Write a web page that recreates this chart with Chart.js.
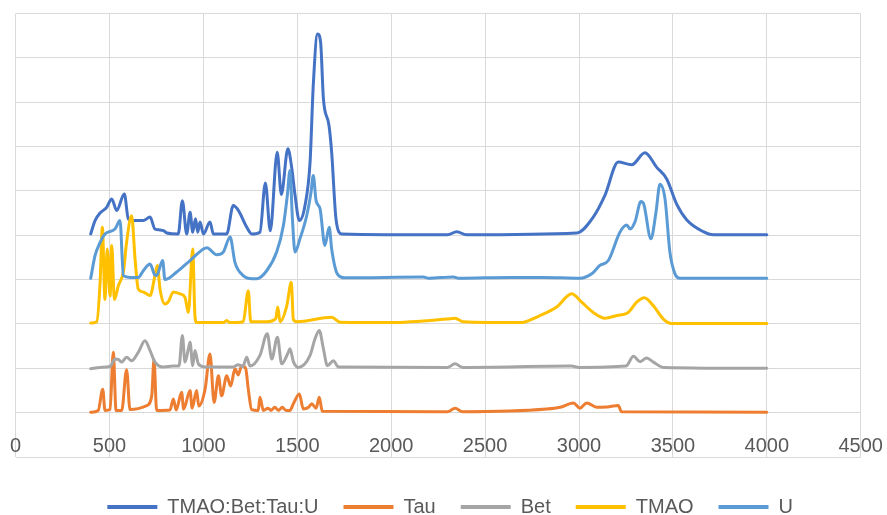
<!DOCTYPE html>
<html>
<head>
<meta charset="utf-8">
<script src="https://cdn.jsdelivr.net/npm/chart.js@4"></script>
<style>
html,body{margin:0;padding:0;background:#fff;}
#c{display:block;}
</style>
</head>
<body>
<canvas id="c" width="887" height="515"></canvas>
<script>
// Series names and colours
const seriesNames = ['TMAO:Bet:Tau:U', 'Tau', 'Bet', 'TMAO', 'U'];
const seriesColors = ['#4472C4', '#ED7D31', '#A5A5A5', '#FFC000', '#5B9BD5'];
const xTickLabels = [0, 500, 1000, 1500, 2000, 2500, 3000, 3500, 4000, 4500];

// TMAO:Bet:Tau:U (offset baseline 4)
const combX = [400,423,450,485,512,538,579,600,627,680,716,742,769,790,805,866,888,911,929,943,958,970,982,1000,1035,1053,1124,1159,1186,1231,1257,1301,1330,1356,1393,1415,1450,1470,1488,1511,1541,1568,1585,1608,1624,1639,1669,1683,1706,1736,2300,2349,2400,2988,3076,3138,3209,3281,3351,3414,3467,3520,3573,3662,3715,4000];
const combY = [4.03,4.33,4.5,4.63,4.82,4.56,4.93,4.37,4.33,4.33,4.41,4.14,4.12,4.1,4.05,4.03,4.78,4.03,4.52,4.07,4.37,4.07,4.3,4.03,4.3,4.03,4.03,4.67,4.56,4.18,4.03,4.07,5.18,4.1,5.87,4.92,5.95,5.53,4.9,4.33,4.67,5.65,7.38,8.54,8.36,7.08,6.47,5.87,4.37,4.03,4.01,4.08,4.01,4.05,4.41,4.9,5.65,5.59,5.86,5.53,5.27,4.7,4.35,4.08,4.01,4.01];

// Tau (baseline 0)
const tauX = [400,440,464,476,503,520,535,565,591,609,698,725,737,751,822,840,855,884,895,929,940,964,975,1009,1035,1057,1080,1097,1124,1145,1168,1185,1204,1225,1239,1257,1292,1301,1319,1345,1360,1380,1400,1420,1440,1461,1479,1511,1532,1560,1577,1600,1617,1633,2300,2340,2380,2828,2899,2970,3005,3041,3094,3150,3209,3227,4000];
const tauY = [0.01,0.05,0.53,0.05,0.07,1.36,0.05,0.05,0.97,0.07,0.16,0.38,1.2,0.05,0.06,0.31,0.06,0.46,0.08,0.5,0.1,0.5,0.15,0.53,1.32,0.23,0.83,0.38,0.83,0.6,0.99,0.85,1.06,1.0,0.53,0.07,0.05,0.35,0.05,0.1,0.05,0.12,0.05,0.12,0.05,0.05,0.2,0.42,0.08,0.12,0.2,0.1,0.35,0.03,0.02,0.1,0.02,0.08,0.12,0.22,0.1,0.22,0.12,0.13,0.16,0.02,0.01];

// Bet (baseline 1)
const betX = [400,450,503,529,547,565,591,618,653,689,716,742,787,840,870,888,902,920,929,943,955,973,1009,1159,1185,1210,1231,1248,1301,1340,1364,1394,1417,1452,1461,1479,1505,1568,1594,1617,1639,1660,1692,1719,2300,2340,2380,2960,3000,3250,3290,3325,3360,3396,3449,4000];
const betY = [0.99,1.02,1.04,1.21,1.2,1.14,1.25,1.17,1.36,1.62,1.4,1.14,1.03,1.05,1.05,1.74,1.14,1.44,1.59,1.06,1.4,1.1,1.03,1.03,1.08,1.04,1.25,1.05,1.29,1.78,1.21,1.7,1.1,1.36,1.44,1.15,1.02,1.29,1.66,1.85,1.44,1.06,1.17,1.03,1.02,1.1,1.02,1.05,1.02,1.05,1.27,1.15,1.23,1.14,1.02,1.0];

// TMAO (baseline 2)
const tmaoX = [400,432,450,462,476,488,503,512,526,547,575,591,618,636,653,680,716,742,755,769,795,813,840,875,902,920,943,955,964,1106,1124,1140,1212,1239,1252,1337,1385,1396,1408,1444,1468,1479,1497,1683,1727,1994,2296,2340,2384,2686,2792,2881,2961,3014,3076,3138,3201,3262,3307,3348,3396,3449,3494,4000];
const tmaoY = [2.02,2.05,2.94,4.18,2.55,3.69,2.63,3.77,2.55,2.86,3.2,3.84,4.44,3.47,2.79,2.72,2.64,3.09,3.32,2.79,2.45,2.5,2.72,2.68,2.6,2.26,3.69,2.18,2.03,2.03,2.08,2.03,2.05,2.75,2.05,2.05,2.12,2.38,2.05,2.41,2.94,2.1,2.05,2.15,2.04,2.03,2.11,2.13,2.05,2.03,2.19,2.38,2.68,2.49,2.26,2.13,2.19,2.26,2.49,2.59,2.41,2.11,2.01,2.01];

// U (baseline 3)
const uX = [400,423,450,476,529,556,574,609,653,680,716,742,751,783,795,858,929,1000,1018,1071,1106,1142,1168,1212,1260,1284,1337,1390,1426,1447,1461,1474,1488,1514,1550,1573,1585,1600,1621,1647,1670,1683,1713,1754,2171,2200,2331,2360,2633,2810,3005,3068,3111,3156,3218,3254,3272,3298,3330,3345,3383,3410,3431,3458,3484,3511,3538,4000];
const uY = [3.03,3.54,3.84,4.03,4.14,4.33,3.09,3.05,3.05,3.2,3.35,3.1,3.09,3.43,3.0,3.17,3.43,3.69,3.72,3.56,3.62,3.96,3.39,3.09,3.02,3.02,3.2,3.62,4.22,4.9,5.46,4.37,3.62,3.92,4.44,4.97,5.35,4.78,4.6,3.77,4.18,3.69,3.13,3.04,3.06,3.03,3.06,3.03,3.05,3.05,3.03,3.13,3.32,3.43,4.07,4.23,4.14,4.3,4.76,4.7,3.92,4.52,5.15,4.82,3.62,3.13,3.03,3.03];

const seriesX = [combX, tauX, betX, tmaoX, uX];
const seriesY = [combY, tauY, betY, tmaoY, uY];

const datasets = seriesNames.map((name, i) => ({
  label: name,
  data: seriesX[i].map((x, k) => ({x: x, y: seriesY[i][k]})),
  borderColor: seriesColors[i],
  backgroundColor: seriesColors[i],
  borderWidth: 3,
  pointRadius: 0,
  fill: false,
  cubicInterpolationMode: 'monotone',
  borderJoinStyle: 'round',
  borderCapStyle: 'round',
  order: seriesNames.length - i
}));

const FONT = "'Liberation Sans', Arial, sans-serif";

const legendShift = {
  id: 'legendShift',
  afterLayout(chart) {
    if (chart.legend) { chart.legend.left += 12; chart.legend.right += 12; }
  }
};

new Chart(document.getElementById('c'), {
  type: 'line',
  data: { datasets: datasets },
  plugins: [legendShift],
  options: {
    responsive: false,
    animation: false,
    devicePixelRatio: 1,
    events: [],
    layout: { padding: { left: 15.6, right: 26.3, top: 13.5, bottom: -12 } },
    scales: {
      x: {
        type: 'linear',
        position: { y: 0 },
        min: 0, max: 4500,
        afterBuildTicks: (s) => { s.ticks = xTickLabels.map(v => ({value: v})); },
        afterFit: (s) => { s.paddingLeft = 0; s.paddingRight = 0; },
        grid: { color: '#d9d9d9', lineWidth: 1, drawTicks: false },
        border: { display: false },
        ticks: {
          color: '#595959', font: { family: FONT, size: 20 }, padding: 22,
          maxRotation: 0, autoSkip: false,
          callback: (v) => String(v)
        }
      },
      x2: {
        type: 'linear',
        position: 'bottom',
        min: 0, max: 1,
        display: true,
        grid: { display: false, drawTicks: false },
        border: { display: false },
        ticks: { display: false },
        afterFit: (s) => { s.height = 15; s.paddingLeft = 0; s.paddingRight = 0; }
      },
      y: {
        type: 'linear',
        min: -1, max: 9,
        ticks: { display: false, stepSize: 1 },
        grid: { color: '#d9d9d9', lineWidth: 1, drawTicks: false },
        border: { display: false }
      }
    },
    plugins: {
      tooltip: { enabled: false },
      legend: {
        position: 'bottom',
        labels: {
          boxWidth: 50,
          boxHeight: 4,
          padding: 25,
          color: '#595959',
          font: { family: FONT, size: 20 },
          generateLabels: (chart) => chart.data.datasets.map((d, i) => ({
            text: d.label,
            fillStyle: d.borderColor,
            strokeStyle: d.borderColor,
            lineWidth: 0,
            fontColor: '#595959',
            hidden: false,
            datasetIndex: i
          }))
        }
      }
    }
  }
});
</script>
</body>
</html>
